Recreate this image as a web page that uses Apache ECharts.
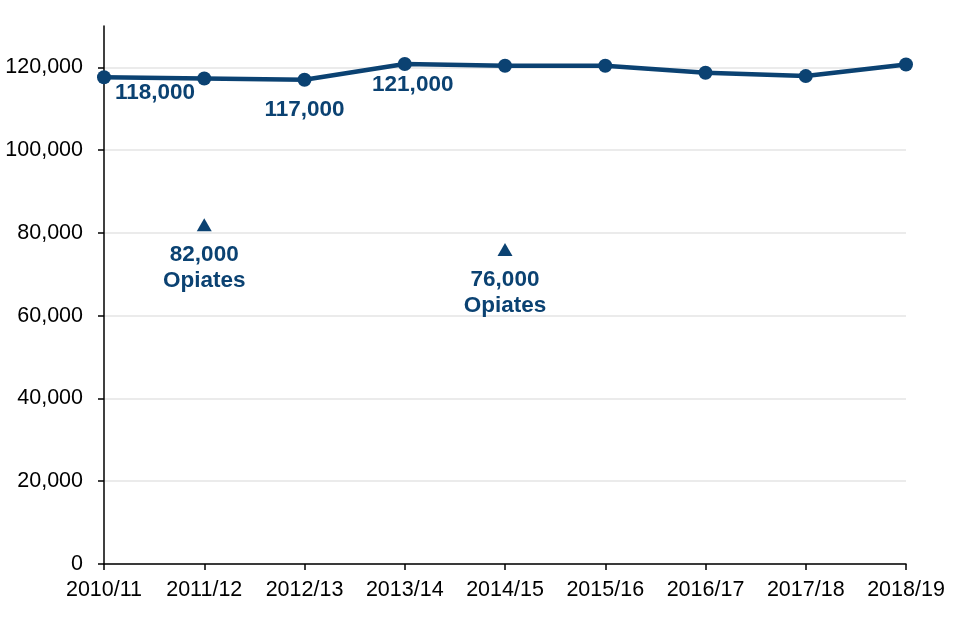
<!DOCTYPE html>
<html>
<head>
<meta charset="utf-8">
<script src="https://cdn.jsdelivr.net/npm/echarts@6/dist/echarts.min.js"></script>
<style>html,body{margin:0;padding:0;background:#fff}#c{width:960px;height:640px}</style>
</head>
<body>
<div id="c"></div>
<script>
const categories = ['2010/11','2011/12','2012/13','2013/14','2014/15','2015/16','2016/17','2017/18','2018/19'];
const totalUsers = [117600, 117300, 117000, 120800, 120400, 120400, 118700, 117900, 120700];
const totalLabels = ['118,000', null, '117,000', '121,000', null, null, null, null, null];
const opiateUsers = [null, 82000, null, null, 76000, null, null, null, null];
const opiateLabels = [null, '82,000\nOpiates', null, null, '76,000\nOpiates', null, null, null, null];
const yTicks = [0, 20000, 40000, 60000, 80000, 100000, 120000];

const BLUE = '#0b4272';
const FONT = 'Liberation Sans, Arial, sans-serif';
const lineOffsets = {0: [51, 15], 2: [0, 30], 3: [8, 21]};

const lineData = totalUsers.map((v, i) => {
  const item = {value: v};
  if (totalLabels[i]) {
    item.label = {show: true, position: 'inside', offset: lineOffsets[i], formatter: totalLabels[i]};
  }
  return item;
});
const scatterData = opiateUsers.map((v, i) => {
  if (v == null) return null;
  return {value: [categories[i], v], label: {show: true, position: 'inside', offset: [0, 43], formatter: opiateLabels[i]}};
}).filter(d => d);

const chart = echarts.init(document.getElementById('c'));
chart.setOption({
  animation: false,
  grid: {left: 104, right: 54, top: 26, bottom: 76, containLabel: false},
  xAxis: {
    type: 'category', data: categories, boundaryGap: false,
    axisLine: {lineStyle: {color: '#000', width: 1.5}},
    axisTick: {show: true, length: 6, interval: 0, lineStyle: {color: '#000', width: 1.5}},
    axisLabel: {color: '#000', fontSize: 21.5, fontFamily: FONT, margin: 15, interval: 0, hideOverlap: false},
    splitLine: {show: false}
  },
  yAxis: {
    type: 'value', min: 0, max: 130000, interval: 10000,
    axisLine: {show: true, lineStyle: {color: '#000', width: 1.5}},
    axisTick: {show: true, length: 6, lineStyle: {color: '#000', width: 1.5},
      customValues: yTicks},
    axisLabel: {color: '#000', fontSize: 21.5, fontFamily: FONT, margin: 21,
      customValues: yTicks,
      formatter: v => yTicks.includes(v) ? v.toLocaleString('en-US') : ''},
    splitLine: {show: true, lineStyle: {color: '#e4e4e4', width: 1.5}},
  },
  series: [
    {
      type: 'line', data: lineData,
      symbol: 'circle', symbolSize: 14,
      lineStyle: {color: BLUE, width: 4.5},
      itemStyle: {color: BLUE},
      label: {color: BLUE, fontSize: 22.5, fontWeight: 'bold', fontFamily: FONT},
      z: 3
    },
    {
      type: 'scatter', data: scatterData,
      symbol: 'triangle', symbolSize: [15, 13],
      itemStyle: {color: BLUE, opacity: 1},
      label: {color: BLUE, fontSize: 22.5, fontWeight: 'bold', fontFamily: FONT, lineHeight: 26, align: 'center'}
    }
  ]
});
</script>
</body>
</html>
